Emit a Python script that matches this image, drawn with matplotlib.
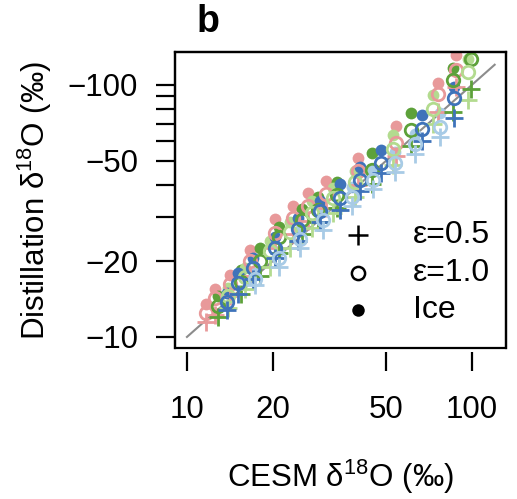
import matplotlib
matplotlib.use("Agg")
from matplotlib import pyplot as plt
from matplotlib.patches import Rectangle
from matplotlib.ticker import FixedLocator, FixedFormatter, NullLocator

plt.rcParams['font.family'] = ['Liberation Sans', 'DejaVu Sans']
plt.rcParams['mathtext.fontset'] = 'custom'
plt.rcParams['mathtext.rm'] = 'Liberation Sans'

# magnitudes of delta18O (permil); plotted as -delta on log axes
pink_cesm = [11.7, 12.5, 14.1, 16.7, 20.3, 23.5, 26.6, 30.8, 39.7, 54.0, 76.0, 88.0]
pink_ice = [13.5, 15.5, 17.6, 22.1, 29.3, 33.0, 37.2, 41.7, 51.0, 68.6, 102.0, 131.0]
pink_e10 = [12.5, 14.3, 16.2, 20.0, 25.8, 29.5, 33.0, 37.0, 45.5, 59.0, 92.0, 114.0]
pink_e05 = [11.5, 12.2, 14.5, 17.5, 22.5, 25.5, 28.8, 32.5, 40.0, 52.0, 78.0, 98.0]

green_cesm = [12.8, 15.5, 18.0, 21.0, 25.3, 28.8, 33.6, 44.5, 61.0, 86.0, 99.0]
green_ice = [14.5, 18.5, 22.5, 27.3, 32.2, 36.0, 41.0, 53.5, 77.0, 117.0, 142.0]
green_e10 = [13.3, 16.5, 20.0, 24.9, 29.0, 32.0, 36.5, 45.8, 66.0, 104.0, 127.0]
green_e05 = [12.0, 14.8, 17.5, 21.5, 25.5, 28.5, 32.5, 40.5, 57.0, 78.0, 96.0]

lgreen_cesm = [13.9, 16.0, 19.5, 23.0, 27.4, 32.5, 38.8, 52.8, 73.0, 97.0]
lgreen_ice = [15.6, 18.8, 24.0, 28.5, 34.5, 39.0, 45.5, 63.0, 91.0, 127.0]
lgreen_e10 = [14.5, 17.3, 22.0, 26.0, 31.0, 35.5, 41.0, 55.5, 80.0, 112.0]
lgreen_e05 = [13.0, 15.5, 19.0, 22.5, 27.0, 31.0, 36.0, 48.0, 70.0, 87.0]

blue_cesm = [13.8, 15.1, 17.0, 20.3, 24.5, 29.3, 34.4, 40.5, 48.0, 67.0, 86.6]
blue_ice = [15.0, 17.9, 20.6, 24.9, 29.6, 34.5, 40.4, 47.0, 55.0, 76.0, 97.8]
blue_e10 = [13.8, 16.3, 18.8, 22.5, 26.8, 31.5, 35.5, 41.8, 48.8, 67.0, 88.6]
blue_e05 = [12.8, 14.8, 17.0, 20.5, 24.0, 28.5, 32.0, 38.0, 44.6, 60.0, 74.0]

lblue_cesm = [17.3, 21.0, 25.0, 30.0, 38.0, 45.0, 53.6, 63.0, 77.0]
lblue_ice = [18.0, 22.0, 26.5, 31.5, 39.3, 46.0, 54.0, 64.0, 77.0]
lblue_e10 = [17.0, 20.5, 24.5, 29.0, 36.0, 42.0, 49.0, 58.0, 68.0]
lblue_e05 = [16.0, 19.0, 22.5, 26.5, 33.0, 38.5, 45.0, 53.0, 62.0]

x_ticks = [10, 20, 50, 100]
y_ticks = [10, 20, 30, 40, 50, 60, 70, 80, 90, 100]
y_labels = ['\u221210', '\u221220', '', '', '\u221250', '', '', '', '', '\u2212100']
legend_labels = ['\u03b5=0.5', '\u03b5=1.0', 'Ice']

series = [
    ('#E8999A', pink_cesm, pink_ice, pink_e10, pink_e05),
    ('#5DA13A', green_cesm, green_ice, green_e10, green_e05),
    ('#B3DB8F', lgreen_cesm, lgreen_ice, lgreen_e10, lgreen_e05),
    ('#3F73BA', blue_cesm, blue_ice, blue_e10, blue_e05),
    ('#A8CBE6', lblue_cesm, lblue_ice, lblue_e10, lblue_e05),
]


def main():
    fig = plt.figure(figsize=(5.17, 4.99), dpi=100)
    ax = fig.add_axes([0.3385, 0.3026, 0.6402, 0.5932])
    ax.set_xscale('log')
    ax.set_yscale('log')

    ax.plot([10, 120], [10, 120], color='#8c8c8c', lw=1.5, zorder=1)

    for color, cesm, ice, e10, e05 in series:
        ax.plot(cesm, ice, 'o', ms=8.5, color=color, mec='none', zorder=2)
        ax.plot(cesm, e10, 'o', ms=9, mfc='none', mec=color, mew=2, zorder=3)
        ax.plot(cesm, e05, '+', ms=13, mec=color, mew=2, zorder=3)

    ax.set_xlim(9.08, 131.5)
    ax.set_ylim(9.04, 134.8)

    ax.xaxis.set_major_locator(FixedLocator(x_ticks))
    ax.xaxis.set_major_formatter(FixedFormatter([str(t) for t in x_ticks]))
    ax.xaxis.set_minor_locator(NullLocator())
    ax.yaxis.set_major_locator(FixedLocator(y_ticks))
    ax.yaxis.set_major_formatter(FixedFormatter(y_labels))
    ax.yaxis.set_minor_locator(NullLocator())

    ax.tick_params(axis='both', length=13.5, width=1.6, color='black', labelsize=22.5)
    ax.tick_params(axis='x', pad=17)
    ax.tick_params(axis='y', pad=13)

    ax.spines['bottom'].set_position(('outward', 3))
    ax.spines['bottom'].set_edgecolor('none')
    for side in ['top', 'left', 'right']:
        ax.spines[side].set_linewidth(1.6)
    ax.add_patch(Rectangle((0, 0), 1, 1, transform=ax.transAxes, fill=False,
                           lw=1.6, ec='black', clip_on=False, zorder=10))

    ax.set_xlabel('CESM \u03b4$^{\\mathregular{18}}$O (\u2030)', fontsize=22.5, labelpad=24)
    ax.set_ylabel('Distillation \u03b4$^{\\mathregular{18}}$O (\u2030)', fontsize=22.5, labelpad=10)

    # legend drawn by hand to keep the wide marker-label gap
    leg_y = [0.382, 0.253, 0.128]
    ax.plot(0.553, leg_y[0], '+', ms=15, mew=1.8, color='black', transform=ax.transAxes)
    ax.plot(0.553, leg_y[1], 'o', ms=9.5, mfc='none', mec='black', mew=1.8, transform=ax.transAxes)
    ax.plot(0.553, leg_y[2], 'o', ms=9, color='black', mec='none', transform=ax.transAxes)
    for yy, lab in zip(leg_y, legend_labels):
        ax.text(0.719, yy, lab, transform=ax.transAxes, fontsize=23, va='center', ha='left')

    fig.text(0.38, 0.935, 'b', fontsize=27, fontweight='bold', ha='left', va='baseline')

    fig.savefig('out.png', dpi=100)


if __name__ == '__main__':
    main()
